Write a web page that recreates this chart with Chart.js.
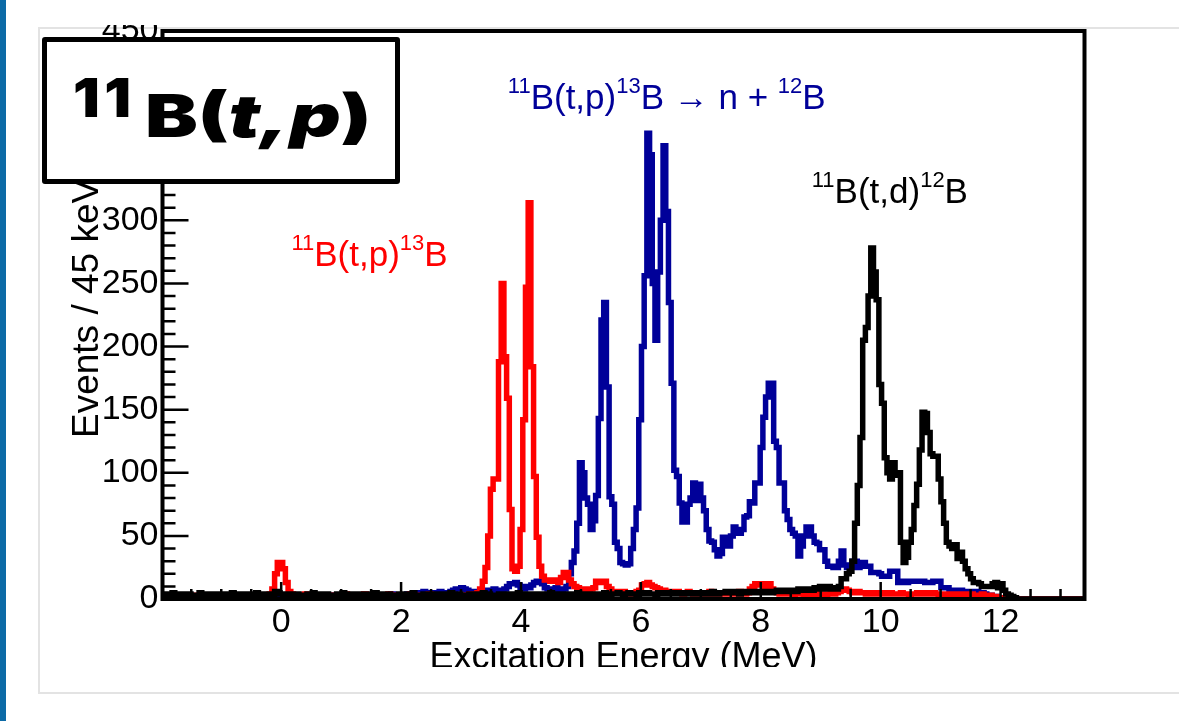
<!DOCTYPE html>
<html>
<head>
<meta charset="utf-8">
<title>11B(t,p) excitation energy spectra</title>
<script src="https://cdn.jsdelivr.net/npm/chart.js@4.4.1/dist/chart.umd.min.js"></script>
<style>
  html, body { margin: 0; padding: 0; background: #fff; }
  body { position: relative; width: 1179px; height: 721px; overflow: hidden; }
  #stripe { position: absolute; left: 0; top: 0; width: 6px; height: 721px; background: #0c6aa6; }
  #card { position: absolute; left: 38px; top: 27px; width: 1170px; height: 667px; box-sizing: border-box; border: 2px solid #e3e3e3; }
  #clip { position: absolute; left: 38px; top: 25px; width: 1141px; height: 642px; overflow: hidden; }
  #holder { position: absolute; left: 0; top: -15px; width: 1141px; height: 700px; }
  #tag { position: absolute; left: 42px; top: 37px; width: 358px; height: 147px; box-sizing: border-box; border: 5px solid #000; border-radius: 3px; background: #fff; }
  #tag span { position: absolute; line-height: 1; font-family: Inter, 'DejaVu Sans', sans-serif; font-weight: 900; color: #000; white-space: nowrap; transform-origin: 0 0; }
  #tagIso { left: 26px; top: 29px; font-size: 54px; letter-spacing: 4px; transform: scaleX(1.1); }
  #tagMain { left: 98px; top: 44px; font-size: 59px; transform: scaleX(1.34); }
</style>
</head>
<body>
<div id="stripe"></div>
<div id="card"></div>
<div id="clip"><div id="holder"><canvas id="chart"></canvas></div></div>
<div id="tag"><span id="tagIso">11</span><span id="tagMain">B(<i>t,p</i>)</span></div>
<script>
const FONT = "'Liberation Sans', Arial, Helvetica, sans-serif";

// histograms: 45 keV bins, first bin starts at -2 MeV
const binStart = -2.0;
const binWidth = 0.045;

const xTickValues = [0, 2, 4, 6, 8, 10, 12];
const yTickValues = [0, 50, 100, 150, 200, 250, 300, 350, 400, 450];

// 11B(t,d)12B
const blackCounts = [
  3,4,2,3,5,3,2,4,3,3,  4,2,3,3,5,4,2,3,4,3,  2,4,3,3,4,2,5,3,3,4,  3,2,4,3,3,5,3,2,4,3,
  4,3,6,5,4,3,3,4,2,3,  4,3,3,2,4,3,5,3,3,4,  3,4,2,3,3,4,3,5,3,2,  4,3,3,4,2,3,4,3,3,5,
  3,2,4,3,4,3,3,2,4,3,  3,4,3,5,3,3,2,4,3,4,  3,3,4,2,3,4,3,5,3,3,  4,3,3,2,4,3,3,4,3,5,
  3,4,3,3,2,4,3,4,3,3,  4,3,5,3,3,4,2,3,4,3,  3,4,3,3,5,4,3,3,4,3,  4,3,3,4,5,3,4,3,4,4,
  3,4,4,3,5,4,3,4,4,5,  4,3,4,5,4,4,3,5,4,4,  5,4,4,3,5,4,4,5,4,5,  4,5,4,4,5,4,5,4,5,5,
  4,5,5,4,6,5,4,5,5,6,  5,5,6,5,4,6,5,6,5,5,  6,5,6,5,6,6,5,6,7,6,  6,7,6,6,7,6,8,7,7,8,
  8,7,9,8,10,9,8,10,9,8,
  8,10,16,16,20,22,30,60,90,128,
  205,215,240,278,259,237,170,155,112,100,
  95,108,98,100,45,29,33,45,55,74,
  91,118,148,147,132,115,113,113,95,77,
  60,45,42,40,43,32,37,30,24,20,
  16,13,13,12,10,10,10,10,12,13,
  9,12,7,4,3,2,1,0,0,0,
  0,0,0,0,0,0,0,0,0,0,  0,0,0,0,0,0,0,0,0,0,  0,0,0
];

// 11B(t,p)13B
const redCounts = [
  2,1,2,3,1,2,2,1,3,2,  1,2,2,3,2,1,2,2,3,2,  1,2,3,2,2,1,2,3,2,1,  2,3,2,2,1,2,3,2,2,3,
  4,8,20,29,29,24,13,6,4,3,
  2,3,2,4,2,3,2,2,3,2,  3,2,3,2,2,3,2,3,4,2,  3,2,3,3,2,4,3,2,3,3,  2,3,2,3,4,3,2,3,2,3,
  2,3,4,2,3,3,2,3,2,4,  3,2,3,2,3,3,2,4,3,2,
  3,3,2,3,4,3,3,5,8,14,
  25,50,87,95,95,188,250,192,159,71,
  24,22,26,55,142,247,314,184,97,49,
  26,18,15,15,14,14,15,13,17,21,
  21,15,12,10,9,8,8,7,7,8,
  9,14,14,13,14,10,8,6,6,5,
  5,6,5,5,4,5,6,7,11,12,
  13,11,10,9,8,7,7,6,5,6,
  5,6,5,4,5,6,5,4,5,4,
  5,4,5,6,4,5,4,5,4,5,
  4,5,5,4,6,5,4,5,8,10,
  12,11,12,10,9,12,8,6,5,4,
  5,4,4,5,3,4,5,4,3,4,
  4,3,4,5,3,4,3,4,5,4,
  5,6,7,8,7,6,5,5,6,5,
  5,4,5,4,5,4,4,5,4,4,
  5,4,4,4,5,4,4,3,4,4,
  5,4,4,5,4,4,5,4,3,4,
  4,3,4,4,3,4,3,4,3,3,
  4,3,3,3,4,3,2,3,2,2,
  1,1,0,0,0,0,0,0,0,0,
  0,0,0,0,0,0,0,0,0,0,  0,0,0,0,0,0,0,0,0,0,  0,0,0
];

// 11B(t,p)13B -> n + 12B
const blueCounts = [
  2,3,2,1,3,2,2,3,1,2,  3,2,2,1,2,3,2,2,3,2,  2,1,3,2,2,3,2,1,2,3,  2,2,3,2,1,2,3,2,2,1,
  2,3,2,2,3,2,1,2,3,2,  2,3,2,2,1,3,2,3,2,2,  3,2,2,3,2,2,3,2,3,2,  2,3,3,2,3,2,3,3,2,3,
  3,2,3,3,2,4,3,3,2,3,  3,4,3,3,4,5,4,6,5,4,
  5,4,5,6,5,4,5,6,7,8,
  8,9,8,7,6,5,6,5,6,7,
  6,7,6,8,7,6,7,8,10,12,
  12,13,11,9,8,10,9,11,13,14,
  14,12,9,8,7,8,9,7,6,8,
  10,20,29,38,60,108,100,80,75,55,
  62,82,143,221,235,168,81,75,45,40,
  29,28,27,28,40,55,72,142,200,256,
  369,352,250,205,259,300,359,307,235,171,
  102,97,76,61,61,75,80,92,78,91,
  80,70,55,46,45,39,34,36,49,45,
  42,50,57,55,52,55,65,66,77,76,
  92,92,120,144,160,171,171,125,120,92,
  92,70,63,55,52,50,34,42,50,57,
  57,50,45,44,39,39,30,26,26,25,
  25,30,38,27,25,25,30,30,25,26,
  29,26,26,21,21,21,20,18,18,18,
  22,22,22,13,13,14,13,14,14,14,
  14,14,14,13,13,13,14,14,14,9,
  9,9,7,7,7,7,7,6,6,6,
  6,6,6,5,5,4,3,3,2,2,
  1,1,0,0,0,0,0,0,0,0,
  0,0,0,0,0,0,0,0,0,0,  0,0,0,0,0,0,0,0,0,0,  0,0,0
];

// reaction labels, placed in data coordinates (MeV, events)
const reactionLabels = [
  { color: '#ff0000', at: [0.17, 264], parts: [['11', true], ['B(t,p)'], ['13', true], ['B']] },
  { color: '#000099', at: [3.78, 388], parts: [['11', true], ['B(t,p)'], ['13', true], ['B \u2192 n + '], ['12', true], ['B']] },
  { color: '#000000', at: [8.85, 314], parts: [['11', true], ['B(t,d)'], ['12', true], ['B']] },
];

function toSteps(counts) {
  const pts = counts.map((c, i) => ({ x: binStart + i * binWidth, y: c }));
  pts.push({ x: binStart + counts.length * binWidth, y: counts[counts.length - 1] });
  return pts;
}

const lineStyle = { stepped: true, borderWidth: 5.5, pointRadius: 0, fill: false, tension: 0, borderJoinStyle: 'miter' };

function zeroPad(s) {
  s.paddingLeft = 0; s.paddingRight = 0; s.paddingTop = 0; s.paddingBottom = 0;
}

// ROOT-like frame with inward ticks, axis titles and reaction labels
const decor = {
  id: 'decor',
  afterDatasetsDraw(chart) {
    const { ctx, chartArea: a, scales: { x, y } } = chart;
    ctx.save();
    ctx.strokeStyle = '#000';
    ctx.lineWidth = 2.5;
    ctx.beginPath();
    for (let v = Math.ceil(x.min / 0.5) * 0.5; v <= x.max; v += 0.5) {
      const px = x.getPixelForValue(v);
      const len = xTickValues.includes(v) ? 17 : 10;
      ctx.moveTo(px, a.bottom);
      ctx.lineTo(px, a.bottom - len);
    }
    for (let v = 0; v <= y.max; v += 10) {
      const py = y.getPixelForValue(v);
      const len = yTickValues.includes(v) ? 26 : 13;
      ctx.moveTo(a.left, py);
      ctx.lineTo(a.left + len, py);
    }
    ctx.stroke();
    ctx.lineWidth = 4;
    ctx.strokeRect(a.left, a.top, a.right - a.left, a.bottom - a.top);
    ctx.restore();
  },
  afterDraw(chart) {
    const { ctx, chartArea: a, scales: { x, y } } = chart;
    ctx.save();
    ctx.fillStyle = '#000';
    ctx.font = '36px ' + FONT;
    ctx.textAlign = 'center';
    ctx.textBaseline = 'alphabetic';
    ctx.fillText('Excitation Energy (MeV)', (a.left + a.right) / 2, a.bottom + 69);

    ctx.save();
    ctx.translate(a.left - 64.5, a.bottom - 161);
    ctx.rotate(-Math.PI / 2);
    ctx.textAlign = 'left';
    ctx.font = '37px ' + FONT;
    ctx.fillText('Events / 45 keV', 0, 0);
    ctx.restore();

    ctx.textAlign = 'left';
    for (const lab of reactionLabels) {
      let cx = x.getPixelForValue(lab.at[0]);
      const base = y.getPixelForValue(lab.at[1]);
      ctx.fillStyle = lab.color;
      for (const [t, sup] of lab.parts) {
        ctx.font = (sup ? 22 : 35) + 'px ' + FONT;
        ctx.fillText(t, cx, sup ? base - 16 : base);
        cx += ctx.measureText(t).width;
      }
    }
    ctx.restore();
  }
};

new Chart(document.getElementById('chart'), {
  type: 'line',
  data: {
    datasets: [
      { label: '11B(t,d)12B', data: toSteps(blackCounts), borderColor: '#000000', ...lineStyle },
      { label: '11B(t,p)13B', data: toSteps(redCounts), borderColor: '#ff0000', ...lineStyle },
      { label: '11B(t,p)13B -> n + 12B', data: toSteps(blueCounts), borderColor: '#000099', ...lineStyle },
    ],
  },
  options: {
    responsive: true,
    maintainAspectRatio: false,
    animation: false,
    layout: { padding: { left: 24.5, top: 21, right: 94.5, bottom: 51 } },
    plugins: { legend: { display: false }, tooltip: { enabled: false } },
    scales: {
      x: {
        type: 'linear',
        min: -1.98,
        max: 13.4,
        grid: { display: false, drawTicks: false },
        border: { display: false },
        afterBuildTicks: s => { s.ticks = xTickValues.map(v => ({ value: v })); },
        afterFit: s => { s.height = 60; zeroPad(s); },
        ticks: { padding: 3, color: '#000', autoSkip: false, maxRotation: 0, font: { family: FONT, size: 34 } },
      },
      y: {
        min: 0,
        max: 450,
        grid: { display: false, drawTicks: false },
        border: { display: false },
        afterBuildTicks: s => { s.ticks = yTickValues.map(v => ({ value: v })); },
        afterFit: s => { s.width = 100; zeroPad(s); },
        ticks: { padding: 4, color: '#000', autoSkip: false, font: { family: FONT, size: 34 } },
      },
    },
  },
  plugins: [decor],
});
</script>
</body>
</html>
